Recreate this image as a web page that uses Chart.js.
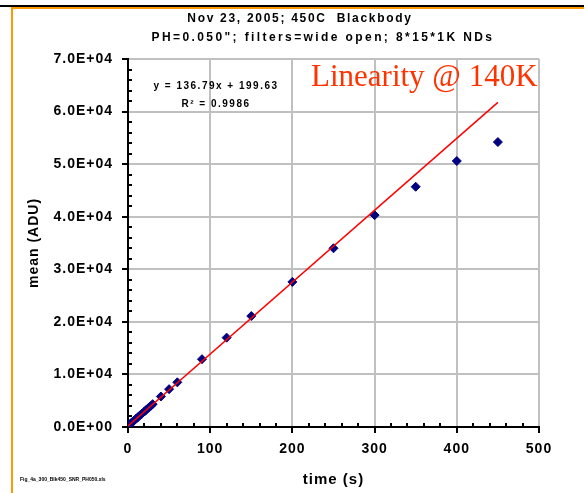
<!DOCTYPE html>
<html>
<head>
<meta charset="utf-8">
<script src="https://cdn.jsdelivr.net/npm/chart.js@4.4.0/dist/chart.umd.min.js"></script>
<style>
  html, body { margin: 0; padding: 0; background: #fff; }
  canvas { display: block; }
</style>
</head>
<body>
<canvas id="linearityChart" width="584" height="493"></canvas>
<script>
// exposure time (s) vs mean signal (ADU)
const times = [1, 2, 3, 4, 5, 7, 10, 12, 15, 17, 20, 22, 25, 28, 30, 40, 50, 60, 90, 120, 150, 200, 250, 300, 350, 400, 450];
const meanADU = [350, 500, 600, 780, 900, 1150, 1600, 1850, 2300, 2550, 2950, 3250, 3650, 4050, 4350,
                 5800, 7200, 8500, 12900, 17000, 21100, 27600, 34000, 40300, 45700, 50600, 54200];

// linear fit shown on the chart
const slope = 136.79;
const intercept = 199.63;
const fitRange = [0, 450];

// axes
const xMax = 500, xStep = 100, xMinorStep = 20;
const yMax = 70000, yStep = 10000, yMinorStep = 2000;

const titleLines = ['Nov 23, 2005; 450C  Blackbody', 'PH=0.050"; filters=wide open; 8*15*1K NDs'];

function sci(v) {
    if (v === 0) return '0.0E+00';
    const e = Math.floor(Math.log10(Math.abs(v)));
    const m = v / Math.pow(10, e);
    return m.toFixed(1) + 'E' + (e < 0 ? '-' : '+') + String(Math.abs(e)).padStart(2, '0');
}

// page frame: black rule at the top, orange rules
const frame = {
    id: 'frame',
    beforeLayout(chart) { chart.ctx.letterSpacing = '1px'; },
    beforeDraw(chart) {
        const ctx = chart.ctx;
        ctx.save();
        ctx.fillStyle = '#fff';
        ctx.fillRect(0, 0, chart.width, chart.height);
        ctx.fillStyle = '#000';
        ctx.fillRect(0, 5, chart.width, 2);
        ctx.fillStyle = '#ff9900';
        ctx.fillRect(12, 7, chart.width - 12, 2);
        ctx.fillRect(11, 7, 2, chart.height - 7);
        ctx.restore();
        ctx.letterSpacing = '1px';
    }
};

// small inside ticks between the major ones
const minorTicks = {
    id: 'minorTicks',
    beforeDatasetsDraw(chart) {
        const {ctx, chartArea, scales: {x, y}} = chart;
        ctx.save();
        ctx.strokeStyle = '#000';
        ctx.lineWidth = 2;
        ctx.beginPath();
        for (let v = yMinorStep; v < yMax; v += yMinorStep) {
            if (v % yStep === 0) continue;
            const py = Math.round(y.getPixelForValue(v));
            ctx.moveTo(chartArea.left, py);
            ctx.lineTo(chartArea.left + 4, py);
        }
        for (let v = xMinorStep; v < xMax; v += xMinorStep) {
            if (v % xStep === 0) continue;
            const px = Math.round(x.getPixelForValue(v));
            ctx.moveTo(px, chartArea.bottom);
            ctx.lineTo(px, chartArea.bottom - 4);
        }
        ctx.stroke();
        ctx.restore();
    }
};

// titles and annotations
const labels = {
    id: 'labels',
    afterDraw(chart) {
        const ctx = chart.ctx;
        ctx.save();
        ctx.fillStyle = '#000';
        ctx.textAlign = 'center';
        ctx.textBaseline = 'middle';
        ctx.font = 'bold 12px "Liberation Sans", Arial, sans-serif';
        ctx.letterSpacing = '1.7px';
        ctx.fillText(titleLines[0], 300, 19);
        ctx.letterSpacing = '2.4px';
        ctx.fillText(titleLines[1], 323, 38);

        ctx.letterSpacing = '1.5px';
        ctx.font = 'bold 10px "Liberation Sans", Arial, sans-serif';
        ctx.fillText('y = ' + slope + 'x + ' + intercept, 216, 86);
        ctx.fillText('R\u00b2 = 0.9986', 216, 104);

        ctx.letterSpacing = '0px';
        ctx.fillStyle = '#ff3300';
        ctx.textAlign = 'left';
        ctx.textBaseline = 'alphabetic';
        ctx.font = '31px "Liberation Serif", "Times New Roman", serif';
        ctx.fillText('Linearity @ 140K', 311, 86);

        ctx.fillStyle = '#000';
        ctx.font = 'bold 5px "Liberation Sans", Arial, sans-serif';
        ctx.fillText('Fig_4a_300_Blk450_SNR_PH050.xls', 20, 481);
        ctx.restore();
    }
};

const ctx = document.getElementById('linearityChart').getContext('2d');

const linearityChart = new Chart(ctx, {
    type: 'scatter',
    data: {
        datasets: [
            {
                label: 'fit',
                data: fitRange.map(t => ({x: t, y: slope * t + intercept})),
                showLine: true,
                borderColor: '#ff0000',
                borderWidth: 1.5,
                pointRadius: 0,
                order: 0
            },
            {
                label: 'mean',
                data: times.map((t, i) => ({x: t, y: meanADU[i]})),
                pointStyle: 'rectRot',
                pointRadius: 4.5,
                backgroundColor: '#000080',
                borderColor: '#000080',
                borderWidth: 1,
                order: 1
            }
        ]
    },
    options: {
        responsive: false,
        animation: false,
        layout: {
            padding: {top: 59, right: 45, bottom: 0, left: 0}
        },
        plugins: {
            legend: {display: false},
            tooltip: {enabled: false}
        },
        scales: {
            x: {
                type: 'linear',
                min: 0,
                max: xMax,
                afterFit(scale) { scale.height = 66; },
                ticks: {
                    stepSize: xStep,
                    color: '#000',
                    padding: 8,
                    maxRotation: 0,
                    font: {family: '"Liberation Sans", Arial, sans-serif', size: 14, weight: 'bold'}
                },
                grid: {
                    color: '#c0c0c0',
                    lineWidth: 2,
                    tickColor: '#000',
                    tickLength: 6,
                    tickWidth: 2
                },
                border: {color: '#000', width: 2},
                title: {
                    display: true,
                    text: 'time (s)',
                    color: '#000',
                    padding: {top: 4, bottom: 4},
                    font: {family: '"Liberation Sans", Arial, sans-serif', size: 15, weight: 'bold'}
                }
            },
            y: {
                min: 0,
                max: yMax,
                afterFit(scale) { scale.width = 128; },
                ticks: {
                    stepSize: yStep,
                    color: '#000',
                    padding: 9,
                    callback: v => sci(v),
                    font: {family: '"Liberation Sans", Arial, sans-serif', size: 14, weight: 'bold'}
                },
                grid: {
                    color: '#c0c0c0',
                    lineWidth: 2,
                    tickColor: '#000',
                    tickLength: 6,
                    tickWidth: 2
                },
                border: {color: '#000', width: 2},
                title: {
                    display: true,
                    text: 'mean (ADU)',
                    color: '#000',
                    padding: {top: 26, bottom: 26},
                    font: {family: '"Liberation Sans", Arial, sans-serif', size: 14, weight: 'bold'}
                }
            }
        }
    },
    plugins: [frame, minorTicks, labels]
});
</script>
</body>
</html>
